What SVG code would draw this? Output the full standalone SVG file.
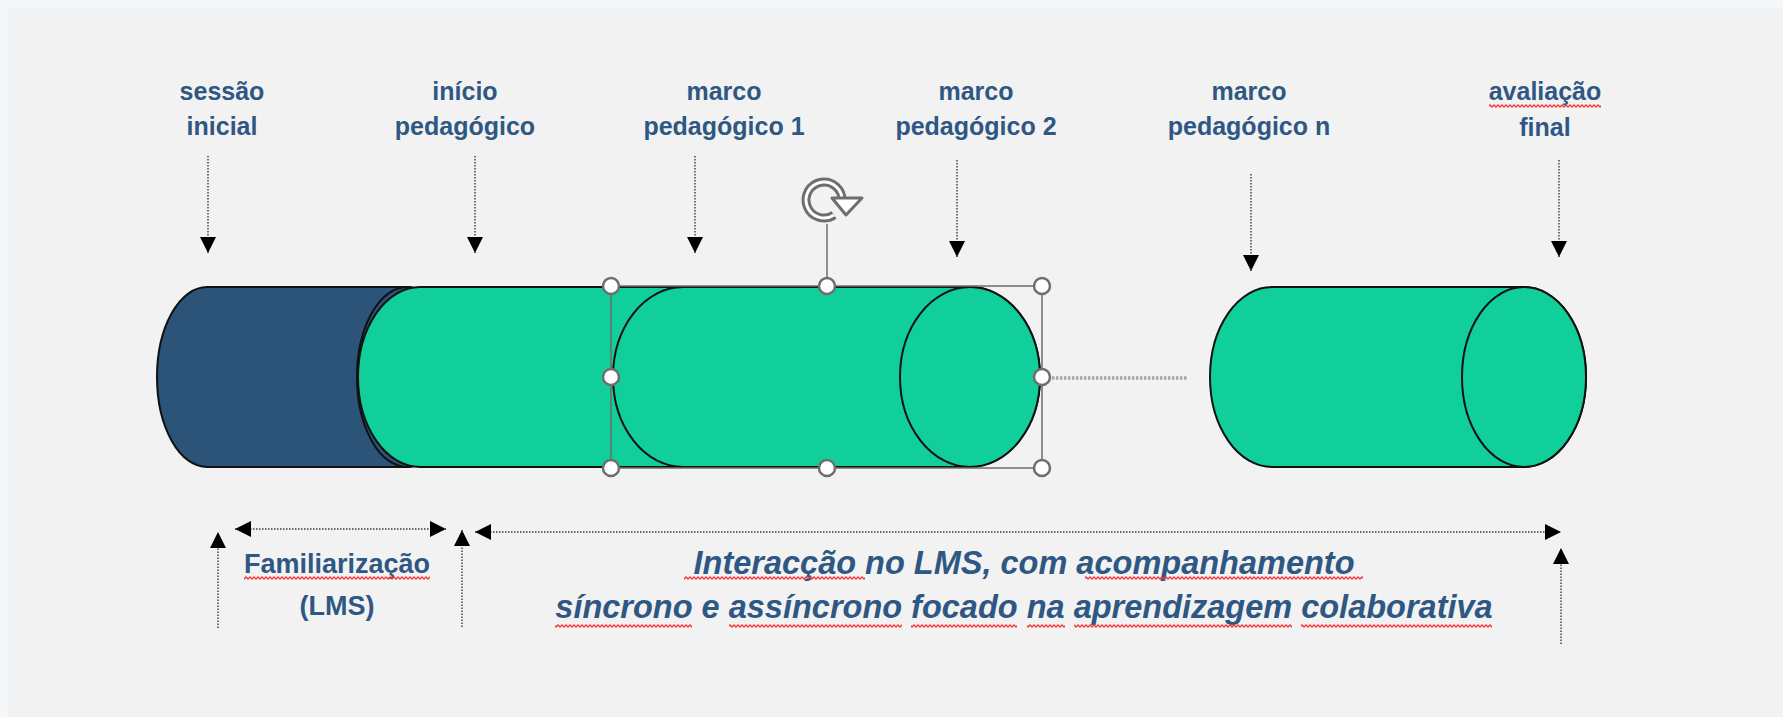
<svg xmlns="http://www.w3.org/2000/svg" width="1783" height="717" viewBox="0 0 1783 717">
<defs>
<style>
.lbl{font-family:"Liberation Sans",Arial,sans-serif;font-weight:bold;font-size:25px;fill:#2e5883;text-anchor:middle}
.fam{font-size:27px}
.ital{font-style:italic;font-size:32.5px}
.dot{stroke:#3a3a3a;stroke-width:1.4;stroke-dasharray:1.5 1.5;fill:none}
.cyl{stroke:#111;stroke-width:2}
.green{fill:#11cf9b}
.navy{fill:#2c5479}
.handle{fill:#fff;stroke:#6e6e6e;stroke-width:2.5}
.sel{fill:none;stroke:#6e6e6e;stroke-width:1.5}
.sq{fill:url(#wave)}
</style>
<marker id="tri" viewBox="0 0 10 10" refX="10" refY="5" markerWidth="16" markerHeight="16" markerUnits="userSpaceOnUse" orient="auto-start-reverse">
<path d="M0,0 L10,5 L0,10 z" fill="#000"/>
</marker>
<pattern id="wave" width="4" height="4" patternUnits="userSpaceOnUse">
<path d="M-1,2 L0,3 L2,1 L4,3 L5,2" fill="none" stroke="#f03c3c" stroke-width="1.4"/>
</pattern>
</defs>

<rect width="1783" height="717" fill="#f5f8fb"/>
<rect x="8" y="8" width="1775" height="709" fill="#f2f2f2"/>

<g id="cyl-sessao">
<path class="cyl navy" d="M207,287 H407 A50,90 0 0 1 407,467 H207 A50,90 0 0 1 207,287 Z"/>
<ellipse class="cyl navy" cx="407" cy="377" rx="50" ry="90"/>
</g>
<g id="cyl-inicio">
<path class="cyl green" d="M420,287 H970 V467 H420 A62,90 0 0 1 420,287 Z"/>
</g>
<g id="cyl-marco">
<path class="cyl green" d="M683,287 H970 A70,90 0 0 1 970,467 H683 A70,90 0 0 1 683,287 Z"/>
<ellipse class="cyl green" cx="970" cy="377" rx="70" ry="90"/>
</g>
<g id="cyl-marco-n">
<path class="cyl green" d="M1272,287 H1524 A62,90 0 0 1 1524,467 H1272 A62,90 0 0 1 1272,287 Z"/>
<ellipse class="cyl green" cx="1524" cy="377" rx="62" ry="90"/>
</g>

<g id="selection">
<rect class="sel" x="611" y="286" width="431" height="182"/>
<line x1="827" y1="224" x2="827" y2="286" stroke="#6e6e6e" stroke-width="1.5"/>
<path d="M834,215 A18,18 0 1 1 842,201" fill="none" stroke="#6e6e6e" stroke-width="9"/>
<path d="M834,215 A18,18 0 1 1 842,201" fill="none" stroke="#fff" stroke-width="3"/>
<polygon points="832,198 862,198 846,215" fill="#fff" stroke="#6e6e6e" stroke-width="3" stroke-linejoin="round"/>
<circle class="handle" cx="611" cy="286" r="8"/>
<circle class="handle" cx="827" cy="286" r="8"/>
<circle class="handle" cx="1042" cy="286" r="8"/>
<circle class="handle" cx="611" cy="377" r="8"/>
<circle class="handle" cx="1042" cy="377" r="8"/>
<circle class="handle" cx="611" cy="468" r="8"/>
<circle class="handle" cx="827" cy="468" r="8"/>
<circle class="handle" cx="1042" cy="468" r="8"/>
</g>

<g id="connectors">
<line class="dot" x1="208" y1="156" x2="208" y2="253" marker-end="url(#tri)"/>
<line class="dot" x1="475" y1="156" x2="475" y2="253" marker-end="url(#tri)"/>
<line class="dot" x1="695" y1="156" x2="695" y2="253" marker-end="url(#tri)"/>
<line class="dot" x1="957" y1="160" x2="957" y2="257" marker-end="url(#tri)"/>
<line class="dot" x1="1251" y1="174" x2="1251" y2="271" marker-end="url(#tri)"/>
<line class="dot" x1="1559" y1="160" x2="1559" y2="257" marker-end="url(#tri)"/>
<line x1="1052" y1="378" x2="1188" y2="378" stroke="#a6a6a6" stroke-width="3.5" stroke-dasharray="2.5 1.5"/>
<line class="dot" x1="218" y1="628" x2="218" y2="532" marker-end="url(#tri)"/>
<line class="dot" x1="235" y1="529" x2="446" y2="529" marker-start="url(#tri)" marker-end="url(#tri)"/>
<line class="dot" x1="462" y1="627" x2="462" y2="530" marker-end="url(#tri)"/>
<line class="dot" x1="475" y1="532" x2="1561" y2="532" marker-start="url(#tri)" marker-end="url(#tri)"/>
<line class="dot" x1="1561" y1="644" x2="1561" y2="548" marker-end="url(#tri)"/>
</g>

<g id="label-sessao"><text class="lbl" x="222" y="100">sessão</text><text class="lbl" x="222" y="135">inicial</text></g>
<g id="label-inicio"><text class="lbl" x="465" y="100">início</text><text class="lbl" x="465" y="135">pedagógico</text></g>
<g id="label-marco1"><text class="lbl" x="724" y="100">marco</text><text class="lbl" x="724" y="135">pedagógico 1</text></g>
<g id="label-marco2"><text class="lbl" x="976" y="100">marco</text><text class="lbl" x="976" y="135">pedagógico 2</text></g>
<g id="label-marcon"><text class="lbl" x="1249" y="100">marco</text><text class="lbl" x="1249" y="135">pedagógico n</text></g>
<g id="label-avaliacao"><text class="lbl" x="1545" y="100">avaliação</text><text class="lbl" x="1545" y="136">final</text></g>
<g id="label-familiarizacao"><text class="lbl fam" x="337" y="573">Familiarização</text><text class="lbl fam" x="337" y="615">(LMS)</text></g>
<g id="label-interaccao"><text class="lbl ital" x="1024" y="574">Interacção no LMS, com acompanhamento</text><text class="lbl ital" x="1024" y="618">síncrono e assíncrono focado na aprendizagem colaborativa</text></g>

<g id="spellcheck">
<rect class="sq" x="1489" y="104" width="112" height="4"/>
<rect class="sq" x="244" y="576" width="186" height="4"/>
<rect class="sq" x="684" y="576" width="181" height="4"/>
<rect class="sq" x="1085" y="576" width="278" height="4"/>
<rect class="sq" x="555" y="624" width="137" height="4"/>
<rect class="sq" x="729" y="624" width="173" height="4"/>
<rect class="sq" x="911" y="624" width="106" height="4"/>
<rect class="sq" x="1027" y="624" width="38" height="4"/>
<rect class="sq" x="1074" y="624" width="218" height="4"/>
<rect class="sq" x="1301" y="624" width="191" height="4"/>
</g>
</svg>
